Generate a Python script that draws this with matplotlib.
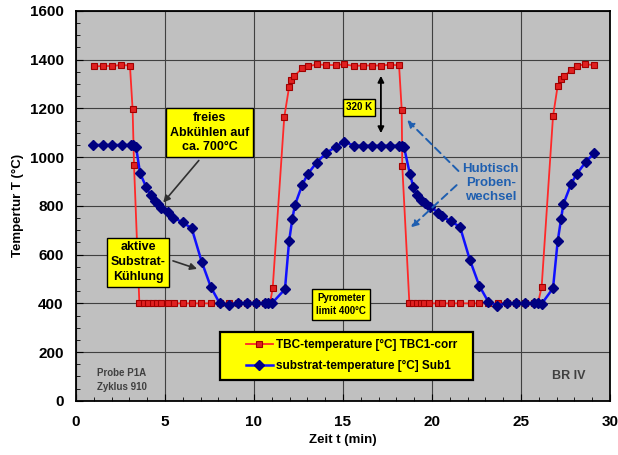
import matplotlib
matplotlib.use('Agg')
import matplotlib.pyplot as plt
import matplotlib.patches as mpatches
from matplotlib.ticker import MultipleLocator

plt.rcParams['font.family'] = ['Liberation Sans', 'DejaVu Sans']
plt.rcParams['font.weight'] = 'bold'

# TBC temperature (red squares)
tbc_t = [1.0, 1.5, 2.0, 2.55, 3.03, 3.18, 3.26, 3.56, 3.8, 4.05, 4.3, 4.55, 4.8, 5.15, 5.5, 6.0,
         6.5, 7.05, 7.57, 8.1, 8.6, 9.1, 9.6, 10.1, 10.6, 10.9,
         11.05, 11.7, 11.97, 12.1, 12.27, 12.71, 13.05, 13.52, 14.04, 14.59, 15.07, 15.62, 16.1,
         16.65, 17.13, 17.64, 18.15, 18.3, 18.33,
         18.73, 18.95, 19.18, 19.37, 19.55, 19.85, 20.35, 20.54, 21.05, 21.57, 22.17, 22.66, 23.16,
         23.7, 24.2, 24.7, 25.2, 25.75, 25.95,
         26.16, 26.8, 27.06, 27.25, 27.43, 27.81, 28.13, 28.6, 29.1]
tbc_v = [1372, 1374, 1374, 1378, 1376, 1196, 966, 400, 400, 400, 400, 400, 400, 400, 400, 400,
         400, 400, 400, 400, 400, 400, 400, 400, 400, 400,
         462, 1164, 1287, 1317, 1333, 1365, 1372, 1381, 1378, 1378, 1381, 1374, 1376,
         1376, 1376, 1379, 1377, 1194, 965,
         400, 400, 400, 400, 400, 400, 400, 400, 400, 400, 400, 400, 400,
         400, 400, 400, 400, 400, 400,
         466, 1167, 1292, 1320, 1331, 1358, 1374, 1381, 1378]

# substrate temperature (blue diamonds)
sub_t = [0.94, 1.5, 2.04, 2.57, 3.09, 3.22, 3.37, 3.6, 3.93, 4.19, 4.44, 4.59, 4.76, 5.19, 5.47,
         6.0, 6.5, 7.06, 7.58, 8.07, 8.58, 9.08, 9.59, 10.1, 10.62, 10.8, 11.0,
         11.74, 11.97, 12.15, 12.3, 12.71, 13.01, 13.52, 14.04, 14.6, 15.07, 15.62, 16.1, 16.65,
         17.13, 17.64, 18.15, 18.3, 18.43, 18.76, 18.95, 19.14, 19.37, 19.6, 19.89, 20.36, 20.54,
         21.05, 21.57, 22.13, 22.66, 23.16, 23.67, 24.2, 24.72, 25.22, 25.75, 25.94, 26.16,
         26.8, 27.06, 27.25, 27.38, 27.81, 28.13, 28.63, 29.1]
sub_v = [1050, 1050, 1050, 1050, 1050, 1050, 1043, 934, 879, 845, 820, 808, 793, 774, 752,
         732, 708, 571, 466, 401, 394, 401, 401, 401, 401, 401, 400,
         458, 654, 745, 804, 886, 930, 978, 1016, 1043, 1064, 1047, 1047, 1047,
         1047, 1047, 1047, 1047, 1041, 930, 879, 845, 824, 811, 797, 772, 759,
         736, 715, 578, 472, 407, 391, 400, 400, 400, 400, 400, 398,
         462, 654, 745, 807, 889, 931, 979, 1016]

fig = plt.figure(figsize=(6.18, 4.55), dpi=100)
ax = fig.add_axes([0.123, 0.119, 0.864, 0.857])
ax.set_facecolor('#c0c0c0')

ax.plot(tbc_t, tbc_v, color='#ff2828', lw=1.3, marker='s', ms=4.3,
        mfc='#e02020', mec='#a00000', mew=0.8, zorder=3,
        label='TBC-temperature [°C] TBC1-corr')
ax.plot(sub_t, sub_v, color='#1010ff', lw=1.8, marker='D', ms=5,
        mfc='#000080', mec='#000080', zorder=4,
        label='substrat-temperature [°C] Sub1')

ax.set_xlim(0, 30)
ax.set_ylim(0, 1600)
ax.xaxis.set_major_locator(MultipleLocator(5))
ax.xaxis.set_minor_locator(MultipleLocator(1))
ax.yaxis.set_major_locator(MultipleLocator(200))
ax.yaxis.set_minor_locator(MultipleLocator(50))
ax.tick_params(which='both', direction='in', labelsize=11)
ax.tick_params(which='major', length=5)
ax.tick_params(axis='y', which='major', pad=9)
ax.tick_params(axis='x', which='major', pad=10)
ax.tick_params(which='minor', length=3)
ax.grid(True, which='major', color='#404040', lw=0.8)
ax.set_axisbelow(True)
for s in ax.spines.values():
    s.set_linewidth(1.3)
    s.set_color('black')

ax.set_xlabel('Zeit t (min)', fontsize=9.5, fontweight='bold', labelpad=4)
ax.set_ylabel('Tempertur T (°C)', fontsize=9.5, fontweight='bold', labelpad=4)

ybox = dict(boxstyle='square,pad=0.3', fc='#ffff00', ec='black', lw=1)

ax.text(7.5, 1100, 'freies\nAbkühlen auf\nca. 700°C', ha='center', va='center',
        fontsize=9, fontweight='bold', bbox=ybox, linespacing=1.3, zorder=6)
ax.annotate('', xy=(4.8, 805), xytext=(7.0, 995),
            arrowprops=dict(arrowstyle='-|>', color='#303030', lw=1.2), zorder=6)

ax.text(3.5, 569, 'aktive\nSubstrat-\nKühlung', ha='center', va='center',
        fontsize=9, fontweight='bold', bbox=ybox, linespacing=1.3, zorder=6)
ax.annotate('', xy=(6.95, 538), xytext=(5.3, 578),
            arrowprops=dict(arrowstyle='-|>', color='#303030', lw=1.2), zorder=6)

ax.text(15.9, 1204, '320 K', ha='center', va='center', fontsize=7, fontweight='bold',
        bbox=dict(boxstyle='square,pad=0.35', fc='#ffff00', ec='black', lw=1), zorder=6)
ax.annotate('', xy=(17.13, 1345), xytext=(17.13, 1087),
            arrowprops=dict(arrowstyle='<|-|>', color='black', lw=1.3, mutation_scale=9), zorder=6)

ax.text(14.9, 395, 'Pyrometer\nlimit 400°C', ha='center', va='center', fontsize=7,
        fontweight='bold', bbox=dict(boxstyle='square,pad=0.4', fc='#ffff00', ec='black', lw=1),
        linespacing=1.4, zorder=6)

ax.text(23.3, 893, 'Hubtisch\nProben-\nwechsel', ha='center', va='center', fontsize=9.5,
        fontweight='bold', color='#1f5fb0', linespacing=1.2, zorder=6)
ax.annotate('', xy=(18.5, 1160), xytext=(21.6, 935),
            arrowprops=dict(arrowstyle='-|>', color='#1f5fb0', lw=1.4, ls=(0, (4, 2.5)),
                            mutation_scale=10), zorder=6)
ax.annotate('', xy=(18.7, 704), xytext=(21.5, 893),
            arrowprops=dict(arrowstyle='-|>', color='#1f5fb0', lw=1.4, ls=(0, (4, 2.5)),
                            mutation_scale=10), zorder=6)

ax.text(1.2, 113, 'Probe P1A', ha='left', va='center', fontsize=7, fontweight='bold',
        color='#404040')
ax.text(1.2, 56, 'Zyklus 910', ha='left', va='center', fontsize=7, fontweight='bold',
        color='#404040')
ax.text(27.7, 103, 'BR IV', ha='center', va='center', fontsize=9, fontweight='bold',
        color='#404040')

# yellow legend box
ax.add_patch(mpatches.Rectangle((0.2697, 0.0538), 0.4738, 0.123, transform=ax.transAxes,
                                fc='#ffff00', ec='black', lw=1.6, zorder=7))
leg = ax.legend(loc='center left', bbox_to_anchor=(0.318, 0.1154), fontsize=8.5,
                frameon=False, borderpad=0, borderaxespad=0, handlelength=2.3,
                handletextpad=0.25, labelspacing=0.75)
leg.set_zorder(8)
for t in leg.get_texts():
    t.set_fontweight('bold')

fig.savefig('out.png', dpi=100, facecolor='white')
